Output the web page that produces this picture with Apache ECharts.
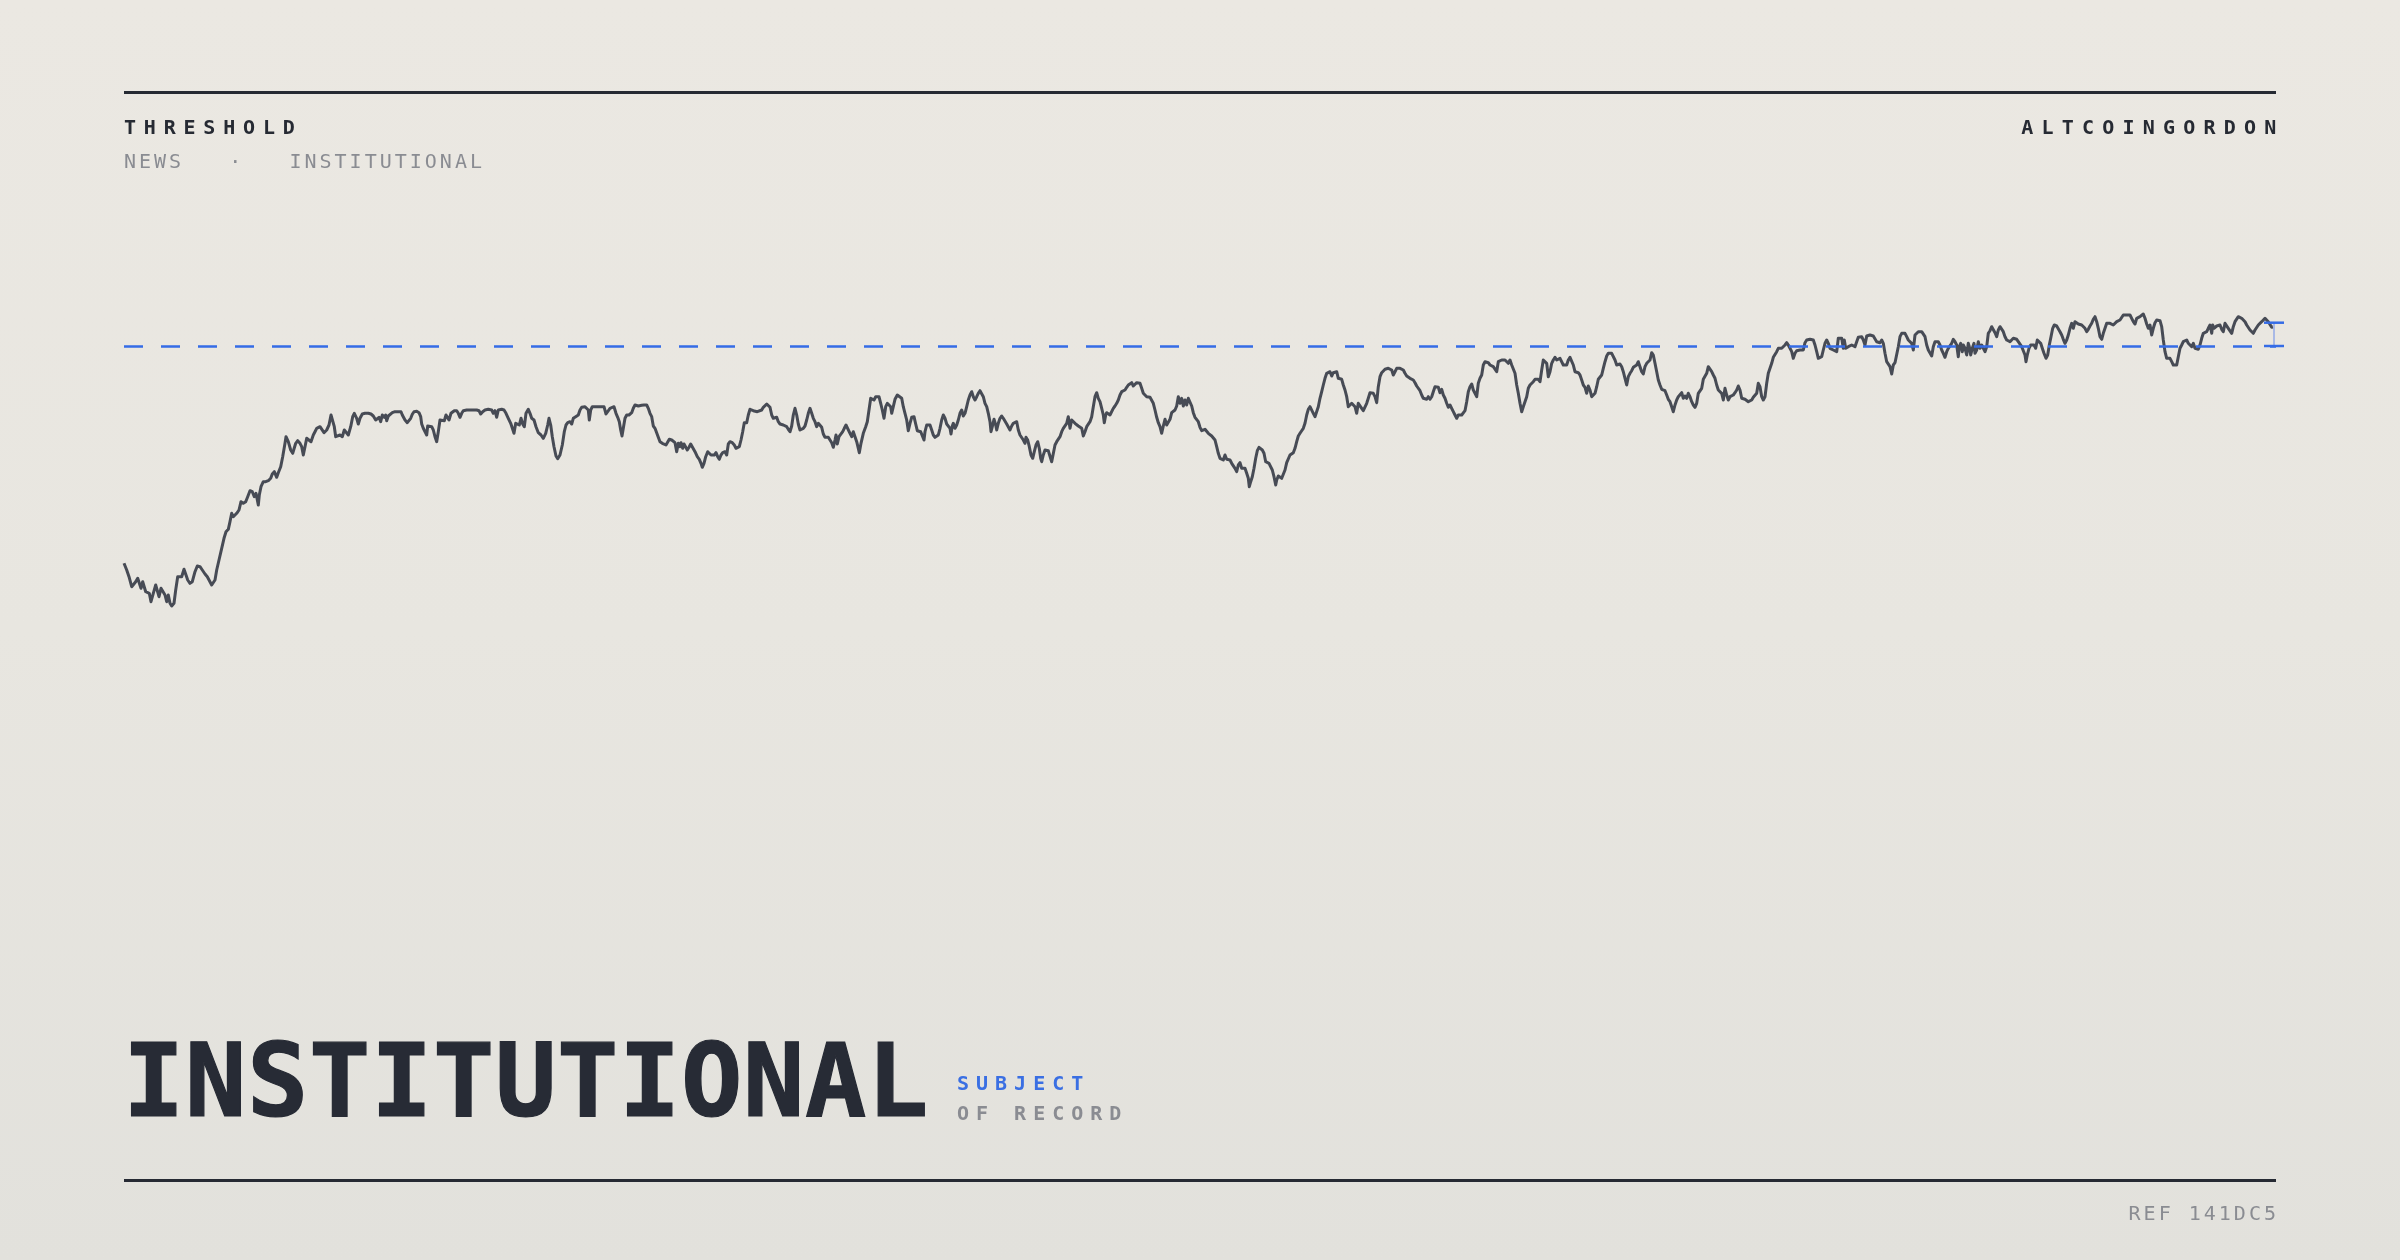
<!DOCTYPE html>
<html><head><meta charset="utf-8">
<script src="https://cdn.jsdelivr.net/npm/echarts@6/dist/echarts.min.js"></script>
<style>
html,body{margin:0;padding:0;width:2400px;height:1260px;overflow:hidden}
body{position:relative;background:linear-gradient(180deg,#ebe8e2 0%,#e8e6e0 50%,#e2e1dc 100%);font-family:"DejaVu Sans Mono",monospace}
#chart{position:absolute;left:0;top:0;width:2400px;height:1260px}
.rule{position:absolute;left:124px;width:2152px;height:3px;background:#262a33}
.t{position:absolute;white-space:pre;line-height:1;font-size:20px}
.hb{font-weight:bold;color:#262a33;letter-spacing:7.8px}
.gr{color:#8a8c92;letter-spacing:3px}
.title{position:absolute;left:123px;top:1030px;font-size:102px;line-height:1;font-weight:bold;color:#272b35;white-space:pre;letter-spacing:0.6px;-webkit-text-stroke:1.2px #272b35}
</style></head>
<body>
<div id="chart"></div>
<div class="rule" style="top:91px"></div>
<div class="rule" style="top:1179px"></div>
<div class="t hb" style="left:124px;top:117.4px">THRESHOLD</div>
<div class="t hb" style="right:115.5px;top:117.4px;letter-spacing:8.2px">ALTCOINGORDON</div>
<div class="t gr" style="left:124px;top:151.4px">NEWS   ·   INSTITUTIONAL</div>
<div class="t gr" style="right:121px;top:1203px">REF 141DC5</div>
<div class="title">INSTITUTIONAL</div>
<div class="t" style="left:957px;top:1073px;font-weight:bold;color:#3a6fe3;letter-spacing:7px">SUBJECT</div>
<div class="t" style="left:957px;top:1103px;font-weight:bold;color:#8a8c92;letter-spacing:7px">OF RECORD</div>
<script>
// day offset, index level
const readings = [
[0,136.7],[2.7,130],[5,123.3],[7.7,113.3],[9.3,112.7],[11.7,118.3],[13.7,121.7],[15.3,120],[17,111.7],[18.7,118.3],[20.3,117.3],[21.7,108.3],[23.3,110],[25.3,106.7],[27,98.3],[29.3,106.7],[31.7,115],[33.7,113.3],[35,103.3],[37,111.7],[38.7,110],[41,105],[42.7,98.3],[44.3,105],[46,96.7],[47.7,94],[50,96.7],[51.7,110],[53.7,123.3],[55.3,125],[57.7,123.3],[60,130.7],[62,125],[63.7,120],[66,116.7],[68.3,118.3],[71,128.3],[73.3,134],[76,133.3],[78.3,130],[81,126],[83.3,123.3],[85.3,124],[87.7,115],[89.3,114],[91,120],[92.7,130],[95,140],[97.7,151.7],[100,161.7],[102,168.3],[104.3,170.7],[106,178.3],[107.7,186.7],[109.3,183.3],[111,185],[112.7,186.7],[115,190],[117,198.3],[119.3,196.7],[121.7,198.3],[123.7,203.3],[126,209.3],[128.3,208.3],[130.3,203.3],[132,206.7],[134.3,195],[135.3,205],[137,213.3],[139.3,218.3],[141.7,218.3],[144.3,219.3],[146.7,221.7],[148.3,226],[150.3,228.3],[152.7,222.7],[154.3,227.3],[156.7,233.3],[158.7,243.3],[161,256.7],[162,263.3],[164.3,258.3],[166.7,250],[168.7,246.7],[170.3,245],[171.7,256.7],[173.7,259.3],[176,256.7],[177.7,253.3],[179.3,245],[181,253.3],[182.7,261.7],[184.3,262.7],[187,258.3],[189.3,265],[191,268.3],[192.7,271.7],[196,273.3],[197.7,274],[200,267.3],[202.7,270],[205,275],[207,285],[208.3,284],[210.3,273.3],[211.7,263.3],[213.7,262.7],[216,265],[218.3,263.3],[220.3,270],[221.7,268.3],[224.3,265],[226.7,273.3],[228.7,283.3],[230.3,286.7],[232.7,281.7],[234.3,276],[236,281.7],[238.3,286],[241,286.7],[244.3,286.7],[247,286],[249.3,284],[251.7,280],[253.3,278.3],[255,282.7],[256.7,278.3],[258.3,285],[260.3,282.7],[261.7,285],[262.7,279.3],[264.3,284],[266,285],[268.3,287.3],[271,288.3],[274.3,288.3],[277,288.3],[278.3,285],[281,280],[283.3,277.3],[285,276],[286.7,281.7],[288.3,285.7],[290,288.3],[292.7,288.7],[295,287.3],[296.7,283.3],[297.7,276],[299.3,271.7],[301,273.3],[302.7,265],[303.7,274],[305.3,275.7],[307.7,273.3],[309.3,270],[311,263.3],[312.7,258.3],[314.3,268.3],[316,280],[317.7,281.7],[320.3,279.3],[322,285],[323.7,286.7],[325,280],[327,286.7],[328.3,288.3],[330.3,289.3],[332.7,289.3],[334.3,286.7],[336,282.7],[337.7,286.7],[339.3,289.3],[342.7,290],[346,290],[349.3,290],[352.7,290],[355,289.3],[356.7,286],[358.7,288.3],[361,290],
[364.3,290.7],[367.7,290],[369.3,286.7],[371,289.3],[372.7,282.7],[374.3,290],[377.7,290.7],[380,290],[382,286.7],[384.3,281.7],[386.7,276.7],[388.7,275],[390,266.7],[391.7,276.7],[393.3,277.3],[395.3,275],[397,281.7],[398.7,276],[400.3,273.3],[402,286.7],[404.3,290.7],[406,286.7],[407.7,281.7],[410,280],[412,273.3],[414.3,267.3],[417,265],[419.3,261.7],[421.7,266.7],[423.7,275],[425,281.7],[426.7,275],[428.3,263.3],[430,253.3],[432,244],[433.7,241.3],[436,245],[438.3,255],[440.3,268.3],[442,275],[443.7,277.3],[446,278.3],[447.7,276],[449.3,281.7],[451.7,283.3],[454.3,285],[456,290],[457.7,292.7],[461,293.3],[462.7,291.7],[464.3,290],[465.3,280],[466.7,290],[468.3,293.3],[471,293.3],[474.3,293.3],[477.7,293.3],[480,293.3],[482,286],[483.7,287.3],[486,291.7],[487.7,293.3],[490,293.3],[492,286.7],[493.7,282.7],[495.3,278.3],[496.7,270],[498,264],[499.3,271.7],[501,281.7],[502.7,285],[505,285],[507.7,287.3],[509.3,291.7],[511,295],[514.3,294],[517.7,294.7],[520,295],[522.7,295],[524.3,291.7],[526,286.7],[527.7,283.3],[529.3,274],[531,271.7],[532.7,270],[534.3,262.7],[536,258.3],[538.3,256.7],[540,256],[542,255],[543.7,256.7],[545.3,260.7],[547.7,260],[549.3,260.7],[551,257.3],[552.7,248.3],[554.3,256.7],[556,253.3],[557,257.3],[558.7,251.7],[560,256],[561.7,254],[563.3,250],[565,252.7],[566.7,256],[568.7,255],[571,248.3],[573.3,243.3],[575.3,240.7],[577,236.7],[578.3,232.7],[580,236.7],[581.7,243.3],[583.7,248.3],[585.3,250],[587,245],[588.7,246.7],[590.3,245],[592,247.3],[593.7,243.3],[595.3,240.7],[597,245],[598.7,247.3],[601,248.3],[602.7,245],[604.3,256],[606,258.3],[608.3,257.3],[610.3,255],[612,251.7],[613.7,250],[615.3,253.3],[617,260],[618.7,268.3],[620.3,277.3],[622.7,277.3],[624.3,285],[626,290.7],[627.7,292.7],[629.3,289.3],[631,288.3],[633.3,288.3],[635.3,286.7],[637.7,290],[639.3,292.7],[641,291.7],[642.7,296],[644.3,296.7],[646,292.7],[647.7,285],[649.3,281.7],[651,282.7],[652.7,282.7],[654.3,278.3],[656,276],[657.7,274],[659.3,275],[661,276],[662.7,273.3],[664.3,270.7],[666,268.3],[667.7,274],[669.3,285],[671,291.7],[672.7,285],[674.3,276],[676,270],[677.7,270.7],[679.3,271.7],[681,274],[682.7,280],[684.3,286.7],[686,291.7],[687.7,286.7],[689.3,281.7],[691,278.3],[692.7,273.3],[694.3,276.7],[696,278.3],[697.7,272.7],[699.3,266],[701,262.7],[702.7,261.7],[704.3,262.7],[706,260.7],[707.7,257.3],[709.3,252.7],[711,260],[712,265],[713.3,256],[715,263.3],[717,262.7],[718.7,268.3],[720.3,271.7],[722,275],[723.7,273.3],[726,266.7],
[727.7,263.3],[729.3,268.3],[731,263.3],[732.7,258.3],[734.3,251.7],[735.3,247.3],[737,256.7],[739.3,266.7],[741.7,273.3],[743.3,278.3],[745,290],[746.7,301.7],[748.3,303.3],[750,300],[751.7,303.3],[753.3,304],[755,303.3],[756.7,296.7],[758.3,290],[760,281.7],[761.7,293.3],[763.3,296.7],[765,298.3],[766.7,293.3],[767.7,286.7],[769.3,293.3],[771,300.7],[773.3,305],[775.3,305],[777.7,301.7],[779.3,293.3],[781,286.7],[782.7,280],[784.3,269.3],[786,276.7],[787.7,282.7],[790,283.3],[791.7,276],[793.3,269.3],[795,267.3],[796.7,268.3],[798.3,266.7],[800,260],[801,268.3],[802.7,275],[804.3,276.7],[806,275],[807.7,270],[809.3,265],[811,262.7],[812.7,263.3],[814.3,265],[816,271.7],[817.7,280],[819.3,285],[821,281.7],[822.7,276],[824.3,275],[826,271.7],[827,266],[828.3,274],[829.3,276.7],[831,271.7],[832.7,275],[834.3,280],[836,286.7],[837.7,290],[839.3,284],[841,286.7],[842.7,293.3],[844.3,300],[846,305],[847.7,308.3],[849.3,303.3],[851,300],[852.7,303.3],[854.3,306.7],[856,309.3],[857.7,309.3],[859.3,303.3],[861,296.7],[862.7,293.3],[864.3,286.7],[866,278.3],[867,268.3],[868.3,273.3],[870,280.7],[871.7,275],[872.7,270],[874.3,276.7],[876,281.7],[877.7,284],[879.3,281.7],[881,280],[882.7,276],[884.3,275],[886,270],[887.7,274],[889.3,276.7],[891,277.3],[892.7,278.3],[894.3,270],[896,265],[897.7,263.3],[899.3,260],[901,256.7],[902,262.7],[903.7,260],[905.3,253.3],[907,245],[908.7,241.7],[910.3,248.3],[912,255],[913.7,258.3],[915.3,251.7],[916.7,241.7],[917.7,238.3],[919.3,245],[921,250],[922.7,250.7],[924.3,249.3],[926,250.7],[927.7,238.3],[929.3,240],[931,255],[932.7,258.3],[934.3,260],[936,263.3],[937.7,268.3],[939.3,271.7],[941,270.7],[942.7,276.7],[944.3,283.3],[946,271.7],[947.7,280],[949.3,281.7],[951,276.7],[952.7,275],[954.3,274],[956,272.7],[957.7,271.7],[959.3,264],[961,268.3],[962.7,273.3],[964.3,275],[966,278.3],[967.7,283.3],[969.3,293.3],[971,303.3],[972.7,307.3],[974.3,301.7],[976,298.3],[977.7,291.7],[979.3,285],[980.3,277.3],[981.7,285],[982.7,287.3],[984.3,288.3],[986,285],[987.7,286.7],[989.3,291.7],[991,294],[992.7,296.7],[994.3,300],[996,305],[997.7,308.3],[999.3,308.3],[1001,310],[1002.7,312.7],[1004.3,315],[1006,316],[1007.7,317.3],[1009.3,314],[1011,316],[1012.7,317.3],[1014.3,318.3],[1016,316.7],[1017.7,311.7],[1019.3,306.7],[1021,306],[1022.7,303.3],[1024.3,305],[1026,302.7],[1027.7,301.7],[1029.3,296.7],[1031,290],[1032.7,282.7],[1034.3,277.3],[1036,273.3],[1037.7,266.7],[1039.3,274],[1041,280.7],[1042.7,275],[1044.3,273.3],[1046,280.7],[1047.7,287.3],[1049.3,288.3],[1051,290],[1052.7,294],[1054.3,303.3],[1056,296.7],[1057.7,301.7],[1059.3,294],[1061,300],[1062.7,295],[1064.3,301.7],[1066,300],[1067.7,294],[1069.3,287.3],[1071,282.7],[1072.7,284],[1074.3,278.3],[1076,272.7],[1077.7,269.3],[1079.3,270],[1081,270.7],[1082.7,269.3],[1084.3,266.7],[1086,265],[1087.7,264],[1089.3,262.7],[1091,260],
[1092.7,253.3],[1094.3,246.7],[1096,241.7],[1097.7,243.3],[1099.3,240],[1101,245],[1102.7,240.7],[1104.3,242.7],[1106,240],[1107.7,236.7],[1109.3,235],[1111,231.7],[1112.7,228.3],[1114.3,235],[1116,237.3],[1117.7,231.7],[1119.3,233.3],[1121,231.7],[1122.7,226.7],[1124.3,221.7],[1125.3,213.3],[1126.7,218.3],[1128.3,223.3],[1130,231.7],[1131.7,241.7],[1133.3,249.3],[1135,252.7],[1136.7,251.7],[1138.3,250],[1140,246.7],[1141.7,238.3],[1143.3,236.7],[1145,236.7],[1146.7,235],[1148.3,230],[1150,223.3],[1151.7,215],[1152.7,220],[1154.3,224],[1156,224],[1157.7,221.7],[1159.3,221.7],[1161,230],[1162.7,237.3],[1164.3,238.3],[1166,245],[1167.7,246.7],[1169.3,247.3],[1171,251.7],[1172.7,258.3],[1174.3,264],[1176,266.7],[1177.7,269.3],[1179.3,271.7],[1181,276.7],[1182.7,285],[1184.3,290.7],[1186,293.3],[1187.7,291.7],[1189.3,286.7],[1191,283.3],[1192.7,284],[1194.3,293.3],[1196,301.7],[1197.7,308.3],[1199.3,315],[1201,321.7],[1202.7,326.7],[1204.3,328.3],[1206,328.3],[1207.7,324],[1209.3,327.3],[1211,328.3],[1212.7,328.3],[1214.3,321.7],[1216,320],[1217.7,320.7],[1219.3,315],[1221,310],[1222.7,303.3],[1224.3,293.3],[1226,295],[1227.7,296.7],[1229.3,295],[1231,293.3],[1232.7,286.7],[1234.3,296.7],[1236,297.3],[1237.7,291.7],[1239.3,289.3],[1241,290.7],[1242.7,296.7],[1244.3,301.7],[1246,307.3],[1247.7,308.3],[1249.3,306.7],[1251,303.3],[1252.7,297.3],[1254.3,313.3],[1256,323.3],[1257.7,327.3],[1259.3,328.3],[1261,330.7],[1262.7,331.7],[1264.3,331.7],[1266,331.7],[1267.7,330],[1269.3,325],[1271,328.3],[1272.7,331.7],[1274.3,330.7],[1276,331.7],[1277.7,331.7],[1279.3,330],[1281,326.7],[1282.7,324],[1284.3,322.7],[1286,321.7],[1287.7,322.7],[1289.3,320],[1291,317.3],[1292.7,314],[1294.3,312.7],[1296,309.3],[1297.7,305],[1299.3,301.7],[1301,300],[1302.7,300.7],[1304.3,303.3],[1306,300.7],[1307.7,303.3],[1309.3,308.3],[1311,313.3],[1312.7,314],[1314.3,312.7],[1316,307.3],[1317.7,310.7],[1319.3,305],[1321,301.7],[1322.7,296.7],[1324.3,292.7],[1326,295],[1327.7,293.3],[1329.3,288.3],[1331,285],[1332.7,281.7],[1334.3,285],[1336,283.3],[1337.7,285],[1339.3,286.7],[1341,289.3],[1342.7,298.3],[1344.3,308.3],[1346,313.3],[1347.7,316],[1349.3,310],[1351,306.7],[1352.7,303.3],[1354.3,316.7],[1356,321.7],[1357.7,325],[1359.3,335],[1361,338.3],[1362.7,338.3],[1364.3,337.3],[1366,335],[1367.7,335],[1369.3,333.3],[1371,335],[1372.7,328.3],[1374.3,338.3],[1376,340],[1377.7,340],[1379.3,339.3],[1381,340],[1382.7,338.3],[1384.3,336.7],[1386,340],[1387.7,335],[1389.3,335],[1391,326.7],[1392.7,315],[1394.3,306.7],[1396,296.7],[1397.7,288.3],[1399.3,293.3],[1401,298.3],[1402.7,303.3],[1404.3,311.7],[1406,315],[1407.7,315],[1409.3,318.3],[1411,320.7],[1412.7,322.7],[1414.3,320.7],[1416,318.3],[1417.7,330],[1419.3,340],[1421,341.7],[1422.7,336.7],[1424.3,323.3],[1426,328.3],[1427.7,336.7],[1429.3,340],[1431,342.7],[1432.7,340],[1434.3,341.7],[1436,341.7],[1437.7,341.7],[1439.3,335],[1441,333.3],[1442.7,335],[1444.3,340],[1446,342.7],[1447.7,341.7],[1449.3,335],[1451,328.3],[1452.7,327.3],[1454.3,327.3],[1456,325],
[1457.7,320],[1459.3,315],[1461,312.7],[1462.7,306.7],[1464.3,314],[1466,310],[1467.7,303.3],[1469.3,301.7],[1471,306.7],[1472.7,313.3],[1474.3,320.7],[1476,321.7],[1477.7,325],[1479.3,331.7],[1481,338.3],[1482.7,344],[1484.3,346.7],[1486,347.3],[1487.7,346.7],[1489.3,346],[1491,340],[1492.7,335],[1494.3,335],[1496,336],[1497.7,333.3],[1499.3,328.3],[1501,321.7],[1502.7,315],[1504.3,323.3],[1506,326.7],[1507.7,329.3],[1509.3,332.7],[1511,333.3],[1512.7,335],[1514.3,338.3],[1516,333.3],[1517.7,328.3],[1519.3,326],[1521,333.3],[1522.7,336.7],[1524.3,335],[1526,340],[1527.7,347.3],[1529.3,345],[1531,336.7],[1532.7,328.3],[1534.3,320],[1536,315],[1537.7,310.7],[1539.3,310],[1541,309.3],[1542.7,305],[1544.3,300.7],[1546,298.3],[1547.7,293.3],[1549.3,288.3],[1551,295],[1552.7,300],[1554.3,303.3],[1556,305],[1557.7,307.3],[1559.3,301.7],[1561,304],[1562.7,301.7],[1564.3,306.7],[1566,303.3],[1567.7,298.3],[1569.3,295],[1571,292.7],[1572.7,296.7],[1574.3,306.7],[1576,308.3],[1577.7,311.7],[1579.3,320.7],[1581,322.7],[1582.7,326.7],[1584.3,333.3],[1586,333.3],[1587.7,328.3],[1589.3,325],[1591,321.7],[1592.7,315],[1594.3,310],[1596,308.3],[1597.7,306.7],[1599.3,300],[1601,311.7],[1602.7,305],[1604.3,300],[1606,303.3],[1607.7,303.3],[1609.3,305],[1611,307.3],[1612.7,310],[1614.3,314],[1616,310],[1617.7,301.7],[1619.3,301.7],[1621,300.7],[1622.7,300],[1624.3,298.3],[1626,296.7],[1627.7,300],[1629.3,302.7],[1631,304],[1632.7,306.7],[1634.3,316.7],[1636,313.3],[1637.7,303.3],[1639.3,300],[1641,303.3],[1642.7,316.7],[1644.3,326.7],[1646,331.7],[1647.7,336.7],[1649.3,342.7],[1651,344],[1652.7,348.3],[1654.3,351.7],[1656,353.3],[1657.7,351.7],[1659.3,352.7],[1661,355],[1662.7,357.3],[1664.3,355],[1666,351.7],[1667.7,348.3],[1669.3,341.7],[1671,346.7],[1672.7,349.3],[1674.3,349.3],[1676,350],[1677.7,349.3],[1679.3,350],[1681,357.3],[1682.7,360],[1684.3,360.7],[1686,360.7],[1687.7,360],[1689.3,360],[1691,355],[1692.7,348.3],[1694.3,341.7],[1696,340],[1697.7,343.3],[1699.3,350],[1701,356.7],[1702.7,360],[1704.3,356.7],[1706,351.7],[1707.7,351.7],[1709.3,350],[1711,350.7],[1712.7,348.3],[1714.3,361.7],[1716,362.7],[1717.7,361.7],[1719.3,351.7],[1720.3,360],[1721.7,351.7],[1722.7,353.3],[1724.3,353.3],[1726,351.7],[1727.7,355],[1729.3,353.3],[1731,353.3],[1732.7,358.3],[1734.3,362.7],[1736,361.7],[1737.7,363.3],[1739.3,360],[1741,355],[1742.7,364],[1744.3,365],[1746,365],[1747.7,365],[1749.3,364],[1751,363.3],[1752.7,358.3],[1754.3,357.3],[1756,357.3],[1757.7,360],[1759.3,356.7],[1761,346.7],[1762.7,338.3],[1764.3,336.7],[1766,333.3],[1767.7,326],[1769.3,335],[1771,337.3],[1772.7,338.3],[1774.3,353.3],[1776,363.3],[1777.7,366.7],[1779.3,367.3],[1781,366.7],[1782.7,363.3],[1784.3,360],[1786,358.3],[1787.7,356.7],[1789.3,350],[1791,365],[1792.7,366.7],[1794.3,368.3],[1796,369],[1797.7,368.3],[1799.3,368.3],[1801,363.3],[1802.7,355],[1804.3,350],[1806,348.3],[1807.7,344],[1809.3,353.3],[1811,358.3],[1812.7,360],[1814.3,358.3],[1816,355],[1817.7,350],[1819.3,346.7],[1821,342.7],
[1822.7,348.3],[1824.3,351.7],[1826,353.3],[1827.7,356.7],[1829.3,360.7],[1831,358.3],[1832.7,355],[1834.3,343.3],[1835.3,353.3],[1836.7,356.7],[1838.3,348.3],[1839.3,355],[1841,351.7],[1842.7,345],[1844.3,356.7],[1845.3,353.3],[1846.7,345],[1848.3,351.7],[1850,356.7],[1851,346.7],[1852.7,350],[1854.3,358.3],[1856,351.7],[1857.7,355],[1859.3,353.3],[1861,348.3],[1862.7,353.3],[1864.3,366.7],[1866,369.3],[1867.7,373.3],[1869.3,375],[1871,367.3],[1872.7,363.3],[1874.3,370],[1876,373.3],[1877.7,375],[1879.3,368.3],[1881,363.3],[1882.7,360],[1884.3,360.7],[1886,358.3],[1887.7,360],[1889.3,361.7],[1891,360],[1892.7,360.7],[1894.3,358.3],[1896,356.7],[1897.7,353.3],[1899.3,354],[1901,345],[1902,338.3],[1903.3,345],[1905,351.7],[1906.7,355],[1908.3,353.3],[1910,355],[1911.7,351.7],[1913.3,360],[1915,360],[1916.7,356.7],[1918.3,351.7],[1920,346.7],[1922,341.7],[1923.7,345],[1925.3,355],[1927,363.3],[1928.7,371.7],[1930.3,375],[1932.7,374],[1934.3,373.3],[1936,368.3],[1937.7,365],[1939.3,360.7],[1941,356.7],[1942.7,360],[1944.3,365],[1946,371.7],[1947.7,376.7],[1949.3,371.7],[1951,378.3],[1952.7,380],[1954.3,376],[1956,376.7],[1957.7,375],[1959.3,376.7],[1961,371.7],[1962.7,368.3],[1964.3,370.7],[1966,374],[1967.7,376.7],[1969.3,380.7],[1971,383.3],[1972.7,378.3],[1974.3,371.7],[1976,363.3],[1977.7,360.7],[1979.3,366.7],[1981,371.7],[1982.7,376.7],[1984.3,378.3],[1986,376.7],[1987.7,378.3],[1989.3,375],[1991,376.7],[1992.7,378.3],[1994.3,377.3],[1996,380],[1997.7,381.7],[1999.3,385],[2002.7,385],[2006,385],[2007.7,385],[2009.3,378.3],[2011,376],[2012.7,381.7],[2014.3,380],[2016,383.3],[2017.7,385],[2019.3,386],[2021,381.7],[2022.7,376],[2024.3,371.7],[2026,375],[2027.7,365],[2029.3,371.7],[2031,377.3],[2032.7,380],[2034.3,380.7],[2036,379.3],[2037.7,373.3],[2039.3,360],[2041,348.3],[2042.7,341.7],[2044.3,340],[2046,341.7],[2047.7,338.3],[2049.3,335],[2051,333.3],[2052.7,335],[2054.3,343.3],[2056,351.7],[2057.7,355],[2059.3,358.3],[2061,357.3],[2062.7,360],[2064.3,356.7],[2066,357.3],[2067.7,353.3],[2069.3,356.7],[2071,351.7],[2072.7,350],[2074.3,350.7],[2076,355],[2077.7,361.7],[2079.3,366.7],[2081,365],[2082.7,368.3],[2084.3,371.7],[2086,375],[2087.7,366.7],[2088.7,375],[2090,371.7],[2091,370],[2092.7,374],[2094.3,372.7],[2096,375],[2097.7,370.7],[2099.3,368.3],[2101,376.7],[2102.7,378.3],[2104.3,371.7],[2106,370],[2107.7,366.7],[2109.3,373.3],[2111,378.3],[2112.7,380],[2114.3,383.3],[2116,384],[2117.7,381.7],[2119.3,381.7],[2121,378.3],[2122.7,375],[2124.3,373.3],[2126,370],[2127.7,370],[2129.3,366.7],[2131,370],[2132.7,371.7],[2134.3,375],[2136,375],[2137.7,378.3],[2139.3,376.7],[2141,381.7],[2142.7,383.3],[2144.3,378.3],[2146,376.7],[2147.7,372.7],[2149,373]
];
const threshold = 354;
const bracketTop = 377.3;
const bracketDay = 2150;
const xRange = [0, 2152];
const yRange = [0, 500];

const BLUE = '#356ce6';

const chart = echarts.init(document.getElementById('chart'), null, {renderer: 'canvas'});
chart.setOption({
  backgroundColor: 'transparent',
  animation: false,
  grid: {left: 124, right: 124, top: 200, bottom: 560},
  xAxis: {type: 'value', min: xRange[0], max: xRange[1], show: false},
  yAxis: {type: 'value', min: yRange[0], max: yRange[1], show: false},
  series: [
    {
      type: 'line',
      data: readings,
      showSymbol: false,
      symbol: 'none',
      lineStyle: {color: '#474b55', width: 3, join: 'round'},
      z: 2,
      markLine: {
        silent: true,
        symbol: 'none',
        label: {show: false},
        lineStyle: {color: BLUE, width: 2.5, type: [19, 18], opacity: 1},
        data: [{yAxis: threshold}],
        z: 3
      }
    },
    {
      type: 'custom',
      clip: false,
      silent: true,
      z: 4,
      data: [[bracketDay, bracketTop, threshold]],
      renderItem: function (params, api) {
        const top = api.coord([api.value(0), api.value(1)]);
        const base = api.coord([api.value(0), api.value(2)]);
        return {
          type: 'group',
          children: [
            {type: 'line', shape: {x1: top[0], y1: top[1], x2: base[0], y2: base[1]}, style: {stroke: '#93aae6', lineWidth: 1.5}},
            {type: 'line', shape: {x1: top[0] - 10, y1: top[1], x2: top[0] + 10, y2: top[1]}, style: {stroke: BLUE, lineWidth: 2.5}},
            {type: 'line', shape: {x1: base[0] - 10, y1: base[1], x2: base[0] + 10, y2: base[1]}, style: {stroke: BLUE, lineWidth: 2.5}}
          ]
        };
      }
    }
  ]
});
</script>
</body></html>
